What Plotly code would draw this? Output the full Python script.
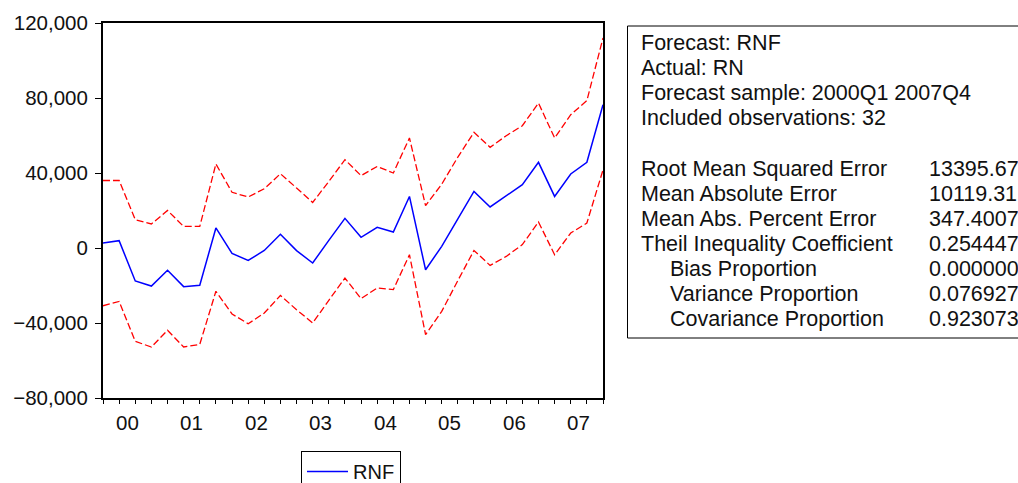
import plotly.graph_objects as go

# ---- data ----
quarter_labels = [f"{y}Q{q}" for y in range(2000, 2008) for q in range(1, 5)]
year_labels = ["00", "01", "02", "03", "04", "05", "06", "07"]

rnf = [2700, 3900, -17600, -20300, -11900, -20600, -19900, 10700,
       -2900, -6600, -1300, 7300, -1400, -8000, 4100, 15800,
       5700, 11000, 8500, 27500, -11600, 900, 15500, 30200,
       21900, 27900, 33800, 45700, 27500, 39500, 45700, 76400]
upper = [36000, 36000, 15100, 12800, 20000, 11500, 11500, 44800,
         29700, 27200, 31600, 39600, 32000, 24300, 35500, 47100,
         38600, 43500, 40000, 58700, 22600, 34000, 48500, 61700,
         53700, 59900, 65200, 77300, 58700, 71100, 78600, 112000]
lower = [-30800, -28500, -49800, -52800, -43900, -52800, -51400, -23100,
         -35200, -40400, -34700, -25300, -32900, -40000, -27900, -16000,
         -27000, -21300, -22200, -3600, -46200, -33800, -17400, -1300,
         -9300, -4500, 1800, 13900, -3600, 8000, 13300, 41600]

y_ticks = [-80000, -40000, 0, 40000, 80000, 120000]

header_lines = ["Forecast: RNF", "Actual: RN",
                "Forecast sample: 2000Q1 2007Q4", "Included observations: 32"]
stat_names = ["Root Mean Squared Error", "Mean Absolute Error",
              "Mean Abs. Percent Error", "Theil Inequality Coefficient",
              "Bias Proportion", "Variance Proportion", "Covariance Proportion"]
stat_indent = [False, False, False, False, True, True, True]
stat_values = ["13395.67", "10119.31", "347.4007", "0.254447",
               "0.000000", "0.076927", "0.923073"]

# ---- layout geometry (pixels) ----
W, H = 1018, 483
L, R, T, B = 103, 603, 23, 398
PW, PH = R - L, B - T
FONT = "Liberation Sans, Arial, sans-serif"
FS_AX = 20.5
FS_TXT = 21.5
FS_LEG = 20


def px_x(p):
    return (p - L) / PW


def px_y(p):
    return (B - p) / PH


x = list(range(len(quarter_labels)))

fig = go.Figure()
fig.add_trace(go.Scatter(x=x, y=upper, mode="lines", showlegend=False,
                         line=dict(color="#ff0000", width=1.3, dash="7px,3px")))
fig.add_trace(go.Scatter(x=x, y=lower, mode="lines", showlegend=False,
                         line=dict(color="#ff0000", width=1.3, dash="7px,3px")))
fig.add_trace(go.Scatter(x=x, y=rnf, mode="lines", name="RNF",
                         line=dict(color="#0000ff", width=1.5)))

major = [i for i in x if i % 4 == 0]
fig.update_layout(
    width=W, height=H,
    margin=dict(l=L, r=W - R, t=T, b=H - B, pad=0, autoexpand=False),
    paper_bgcolor="white", plot_bgcolor="white",
    font=dict(family=FONT, size=FS_AX, color="#111"),
    xaxis=dict(range=[0, len(x) - 1], tickvals=major, ticktext=["" for _ in major],
               ticks="outside", ticklen=8, tickwidth=1, tickcolor="black",
               minor=dict(tickvals=x, ticks="outside", ticklen=4, tickwidth=1,
                          tickcolor="black"),
               showline=True, mirror=True, linecolor="black", linewidth=2,
               showgrid=False, zeroline=False),
    yaxis=dict(range=[-80000, 120000], tickvals=y_ticks, tickformat=",d",
               ticks="outside", ticklen=6, tickwidth=1, tickcolor="black",
               ticklabelstandoff=3,
               showline=True, mirror=True, linecolor="black", linewidth=2,
               showgrid=False, zeroline=False),
    legend=dict(orientation="h", x=px_x(301), y=px_y(451), xanchor="left",
                yanchor="top", bordercolor="black", borderwidth=1,
                bgcolor="white", font=dict(size=FS_LEG), itemwidth=41),
    showlegend=True,
)

annotations = []
for k, lab in enumerate(year_labels):
    annotations.append(dict(x=4 * k + 1.5, y=px_y(422), xref="x", yref="paper",
                            text=lab, showarrow=False, xanchor="center",
                            yanchor="middle", font=dict(size=FS_AX)))

line_y0, line_dy = 43, 25.1
for k, t in enumerate(header_lines):
    annotations.append(dict(x=px_x(639), y=px_y(line_y0 + k * line_dy),
                            xref="paper", yref="paper", text=t, showarrow=False,
                            xanchor="left", yanchor="middle", font=dict(size=FS_TXT)))
for k, (n, ind, v) in enumerate(zip(stat_names, stat_indent, stat_values)):
    yy = px_y(line_y0 + (k + 5) * line_dy)
    annotations.append(dict(x=px_x(668 if ind else 639), y=yy, xref="paper",
                            yref="paper", text=n, showarrow=False,
                            xanchor="left", yanchor="middle", font=dict(size=FS_TXT)))
    annotations.append(dict(x=px_x(927), y=yy, xref="paper", yref="paper",
                            text=v, showarrow=False, xanchor="left",
                            yanchor="middle", font=dict(size=FS_TXT)))
fig.update_layout(annotations=annotations)

fig.add_shape(type="rect", xref="paper", yref="paper",
              x0=px_x(627.5), x1=px_x(1040), y0=px_y(338), y1=px_y(26),
              line=dict(color="black", width=1), fillcolor="rgba(0,0,0,0)")

fig.write_html("out.html", config={"displayModeBar": False},
               post_script="document.body.style.margin='0';"
                           "document.body.style.overflow='hidden';")
